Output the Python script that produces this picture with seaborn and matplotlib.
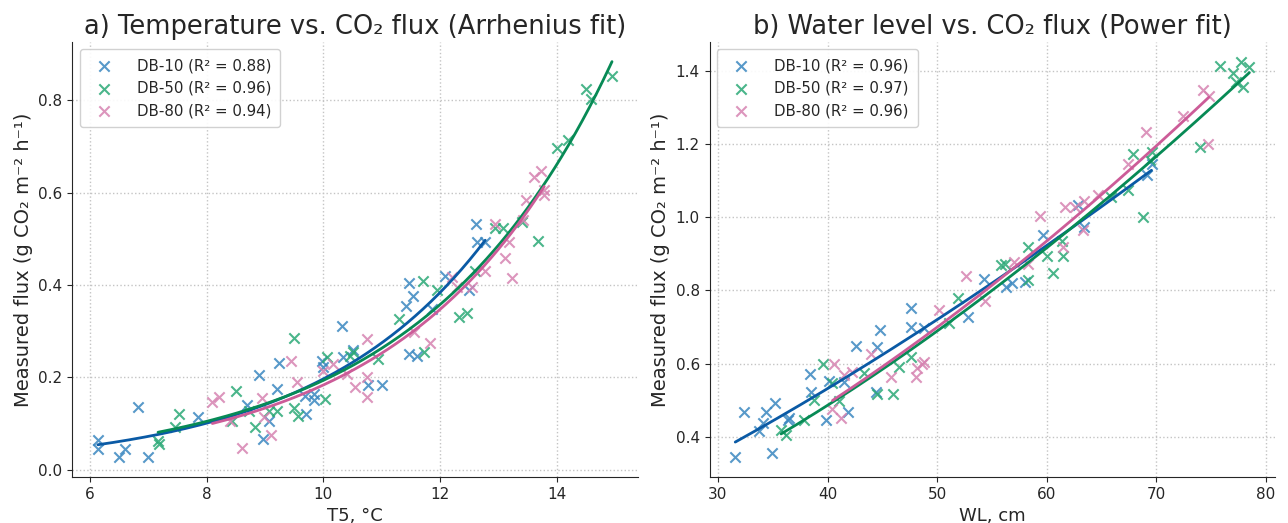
import numpy as np
import pandas as pd
import matplotlib
matplotlib.use("Agg")
import matplotlib.pyplot as plt
import seaborn as sns

# ---- data ----
sites = ["DB-10", "DB-50", "DB-80"]
r2_temp = [0.88, 0.96, 0.94]
r2_wl = [0.96, 0.97, 0.96]

# a) T5 (°C) vs measured flux
t_db10 = [6.14, 6.14, 6.50, 6.61, 6.83, 7.00, 7.86, 8.69, 8.90, 8.96, 9.07, 9.20, 9.24, 9.69,
          9.70, 9.84, 9.84, 9.97, 10.00, 10.32, 10.33, 10.51, 10.77, 11.00, 11.42, 11.46,
          11.46, 11.54, 11.60, 11.86, 12.09, 12.49, 12.62, 12.63, 12.77]
f_db10 = [0.064, 0.045, 0.027, 0.044, 0.135, 0.027, 0.113, 0.141, 0.206, 0.066, 0.106, 0.174,
          0.232, 0.160, 0.121, 0.163, 0.150, 0.235, 0.222, 0.310, 0.243, 0.258, 0.184, 0.184,
          0.355, 0.405, 0.250, 0.377, 0.247, 0.348, 0.420, 0.388, 0.532, 0.493, 0.493]
t_db50 = [7.17, 7.19, 7.46, 7.53, 8.43, 8.50, 8.73, 8.83, 9.07, 9.20, 9.49, 9.50, 9.57, 10.03,
          10.06, 10.46, 10.51, 10.94, 11.29, 11.71, 11.73, 11.94, 12.32, 12.45, 12.59, 12.94,
          13.07, 13.40, 13.67, 14.00, 14.19, 14.49, 14.58, 14.94]
f_db50 = [0.063, 0.056, 0.093, 0.121, 0.106, 0.171, 0.126, 0.092, 0.128, 0.126, 0.134, 0.285,
          0.117, 0.153, 0.243, 0.247, 0.255, 0.240, 0.327, 0.408, 0.254, 0.390, 0.330, 0.339,
          0.431, 0.524, 0.524, 0.536, 0.496, 0.697, 0.713, 0.825, 0.802, 0.852]
t_db80 = [8.10, 8.21, 8.40, 8.60, 8.95, 8.98, 9.11, 9.45, 9.55, 10.00, 10.17, 10.40, 10.54,
          10.74, 10.74, 10.74, 11.55, 11.83, 12.20, 12.29, 12.54, 12.77, 12.93, 13.11, 13.17,
          13.23, 13.42, 13.47, 13.60, 13.72, 13.77, 13.78]
f_db80 = [0.146, 0.158, 0.106, 0.047, 0.155, 0.113, 0.074, 0.236, 0.189, 0.214, 0.229, 0.207,
          0.178, 0.282, 0.200, 0.158, 0.297, 0.274, 0.417, 0.395, 0.395, 0.430, 0.531, 0.459,
          0.493, 0.414, 0.540, 0.583, 0.633, 0.646, 0.605, 0.594]

# b) water level (cm) vs measured flux
wl_db10 = [31.58, 32.42, 33.79, 34.09, 34.39, 34.91, 35.21, 36.36, 36.50, 38.40, 38.45, 39.85,
           40.15, 41.52, 41.90, 42.62, 44.39, 44.55, 44.75, 47.58, 47.58, 48.79, 52.85, 54.24,
           56.30, 56.80, 58.00, 59.65, 62.88, 63.39, 69.10, 69.55]
q_db10 = [0.344, 0.467, 0.416, 0.437, 0.468, 0.355, 0.491, 0.445, 0.450, 0.572, 0.521, 0.445,
          0.553, 0.550, 0.468, 0.648, 0.523, 0.645, 0.691, 0.753, 0.701, 0.696, 0.726, 0.831,
          0.808, 0.820, 0.823, 0.950, 1.032, 0.973, 1.114, 1.146]
wl_db50 = [35.76, 36.21, 37.88, 38.79, 39.55, 40.45, 41.00, 43.33, 44.55, 45.95, 46.52, 47.58,
           51.10, 51.92, 55.80, 56.20, 58.27, 58.27, 60.00, 60.60, 61.40, 61.45, 65.90, 67.42,
           67.88, 68.79, 69.40, 69.55, 73.94, 75.76, 76.97, 77.27, 77.73, 77.88, 78.48]
q_db50 = [0.418, 0.405, 0.445, 0.500, 0.600, 0.546, 0.498, 0.573, 0.518, 0.518, 0.591, 0.618,
          0.712, 0.780, 0.870, 0.873, 0.918, 0.827, 0.895, 0.846, 0.936, 0.895, 1.054, 1.073,
          1.173, 1.000, 1.155, 1.177, 1.191, 1.414, 1.395, 1.368, 1.425, 1.356, 1.409]
wl_db80 = [40.45, 40.55, 41.20, 41.52, 42.27, 44.00, 45.76, 48.03, 48.12, 48.60, 48.79, 50.15,
           52.67, 54.39, 57.00, 58.27, 59.40, 61.52, 61.67, 62.57, 63.33, 63.39, 64.70, 67.42,
           69.09, 72.43, 74.24, 74.70, 74.79]
q_db80 = [0.476, 0.599, 0.452, 0.568, 0.577, 0.626, 0.562, 0.564, 0.587, 0.600, 0.605, 0.745,
          0.838, 0.772, 0.877, 0.873, 1.003, 0.918, 1.027, 1.027, 0.965, 1.045, 1.061, 1.146,
          1.232, 1.277, 1.347, 1.200, 1.332]

point_colors = ["#3a87c0", "#2aa876", "#d683b1"]
line_colors = ["#0a5aa5", "#078a55", "#cc5c98"]


def ls_fit(x, y, basis, b_grid):
    # least squares in linear space: y = a * basis(x, b), scan b, closed-form a
    x = np.asarray(x)
    y = np.asarray(y)
    best = None
    for b in b_grid:
        g = basis(x, b)
        a = (y @ g) / (g @ g)
        sse = np.sum((y - a * g) ** 2)
        if best is None or sse < best[0]:
            best = (sse, a, b)
    xs = np.linspace(x.min(), x.max(), 200)
    return xs, best[1] * basis(xs, best[2])


def arrhenius_fit(x, y):
    return ls_fit(x, y, lambda v, b: np.exp(b * v), np.linspace(0.05, 0.6, 2000))


def power_fit(x, y):
    return ls_fit(x, y, lambda v, b: v ** b, np.linspace(0.3, 2.0, 2000))


sns.set_style("ticks")
plt.rcParams['font.family'] = ['DejaVu Sans']

fig, axes = plt.subplots(1, 2, figsize=(12.88, 5.23), dpi=100)
fig.subplots_adjust(left=0.056, right=0.99, bottom=0.088, top=0.92, wspace=0.127)

panels = [
    (axes[0], [t_db10, t_db50, t_db80], [f_db10, f_db50, f_db80], r2_temp, arrhenius_fit,
     "a) Temperature vs. CO₂ flux (Arrhenius fit)", "T5, °C"),
    (axes[1], [wl_db10, wl_db50, wl_db80], [q_db10, q_db50, q_db80], r2_wl, power_fit,
     "b) Water level vs. CO₂ flux (Power fit)", "WL, cm"),
]

for ax, xs_list, ys_list, r2s, fitter, title, xlabel in panels:
    for i, site in enumerate(sites):
        df = pd.DataFrame({"x": xs_list[i], "y": ys_list[i]})
        sns.scatterplot(data=df, x="x", y="y", ax=ax, marker="x", s=55,
                        color=point_colors[i], linewidth=1.5, alpha=0.85,
                        label=f"{site} (R² = {r2s[i]:.2f})", zorder=3)
    for i, site in enumerate(sites):
        fx, fy = fitter(xs_list[i], ys_list[i])
        sns.lineplot(x=fx, y=fy, ax=ax, color=line_colors[i], linewidth=2,
                     legend=False, zorder=4)

    ax.grid(True, linestyle=":", color="#c4c4c4", linewidth=1)
    ax.set_axisbelow(True)
    sns.despine(ax=ax)
    ax.set_title(title, fontsize=18.5, pad=6)
    ax.set_xlabel(xlabel, fontsize=13)
    ax.set_ylabel("Measured flux (g CO₂ m⁻² h⁻¹)", fontsize=14)
    ax.tick_params(labelsize=11)
    ax.legend(loc="upper left", fontsize=10.8, frameon=True, framealpha=0.9,
              edgecolor="#cccccc", handletextpad=1.2, borderpad=0.6)

axes[0].set_yticks([0.0, 0.2, 0.4, 0.6, 0.8])
axes[1].set_xticks([30, 40, 50, 60, 70, 80])

fig.savefig("out.png", dpi=100)
